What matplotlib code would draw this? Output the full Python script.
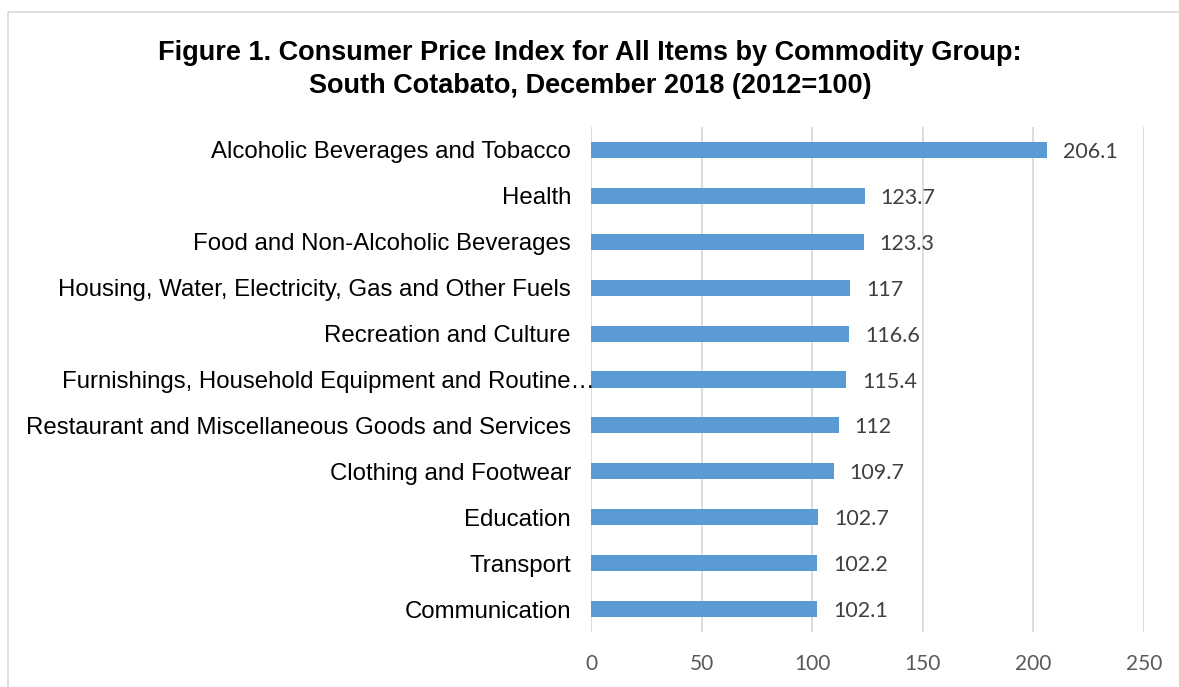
import matplotlib
matplotlib.use("Agg")
import matplotlib.pyplot as plt
from matplotlib.lines import Line2D
import matplotlib.transforms as mtransforms

categories = [
    "Alcoholic Beverages and Tobacco",
    "Health",
    "Food and Non-Alcoholic Beverages",
    "Housing, Water, Electricity, Gas and Other Fuels",
    "Recreation and Culture",
    "Furnishings, Household Equipment and Routine\u2026",
    "Restaurant and Miscellaneous Goods and Services",
    "Clothing and Footwear",
    "Education",
    "Transport",
    "Communication",
]
values = [206.1, 123.7, 123.3, 117, 116.6, 115.4, 112, 109.7, 102.7, 102.2, 102.1]
value_labels = ["206.1", "123.7", "123.3", "117", "116.6", "115.4", "112",
                "109.7", "102.7", "102.2", "102.1"]
xticks = [0, 50, 100, 150, 200, 250]
title = ("Figure 1. Consumer Price Index for All Items by Commodity Group:\n"
         "South Cotabato, December 2018 (2012=100)")

W, H = 1179, 687
fig = plt.figure(figsize=(W / 100, H / 100), dpi=100)
fig.patch.set_facecolor("white")

# light border of the chart area (only top and left are inside the image)
fig.lines.append(Line2D([8 / W, 8 / W, 1.0], [0.0, 1 - 12 / H, 1 - 12 / H],
                        transform=fig.transFigure, color="#d9d9d9",
                        linewidth=1.2))

ax = fig.add_axes([591 / W, 1 - 632 / H, (1144 - 591) / W, (632 - 127) / H])
y = list(range(len(categories)))
ax.barh(y, values, height=0.35, color="#5B9BD5", zorder=3)
ax.set_ylim(len(categories) - 0.5, -0.5)
ax.set_xlim(0, 250)
ax.set_xticks(xticks)
ax.set_xticklabels([str(t) for t in xticks], family="Lato", fontsize=15,
                   color="#595959")
ax.tick_params(axis="x", length=0, pad=16)
ax.set_yticks([])
ax.grid(axis="x", color="#d9d9d9", linewidth=1.3, zorder=0)
for s in ax.spines.values():
    s.set_visible(False)

# category labels
trans = mtransforms.blended_transform_factory(ax.transAxes, ax.transData)
ftrans = mtransforms.blended_transform_factory(fig.transFigure, ax.transData)
for i, c in enumerate(categories):
    if c.endswith("\u2026"):
        ax.text(62 / W, i, c, transform=ftrans, ha="left",
                va="center_baseline", family="Liberation Sans",
                fontsize=17.3, color="black")
    else:
        ax.text(-20 / (1144 - 591), i, c, transform=trans, ha="right",
                va="center_baseline", family="Liberation Sans",
                fontsize=17.3, color="black")

# value labels
for i, (v, lab) in enumerate(zip(values, value_labels)):
    ax.annotate(lab, (v, i), xytext=(16, 0), textcoords="offset pixels",
                ha="left", va="center_baseline", family="Lato",
                fontsize=15.5, color="#404040")

fig.text(590 / W, 1 - 69.5 / H, title, ha="center", va="center",
         family="Liberation Sans", fontweight="bold", fontsize=19.5,
         linespacing=1.36)

fig.savefig("out.png", dpi=100)
